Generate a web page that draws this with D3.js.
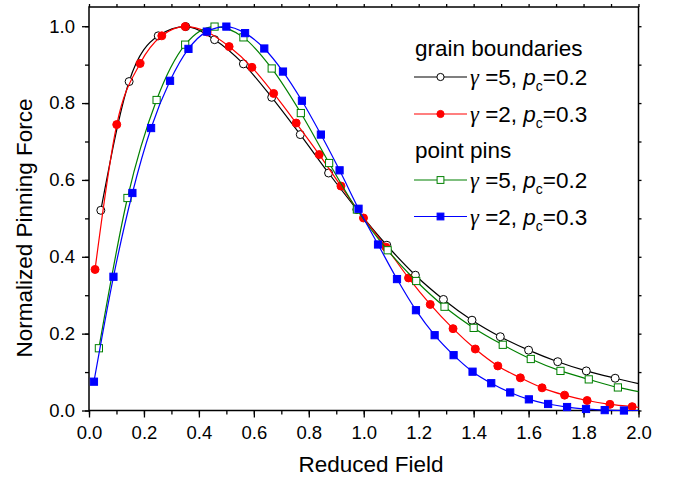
<!DOCTYPE html>
<html>
<head>
<meta charset="utf-8">
<script src="https://cdn.jsdelivr.net/npm/d3@7"></script>
<style>
  body { margin: 0; background: #fff; }
  text { font-family: "Liberation Sans", Arial, sans-serif; fill: #000; }
</style>
</head>
<body>
<svg id="chart" width="673" height="478"></svg>
<script>
// grain boundaries, gamma=5, pc=0.2 (open circles)
const gb5X = [0.043,0.146,0.252,0.352,0.457,0.562,0.665,0.769,0.872,0.975,1.084,1.188,1.290,1.394,1.497,1.600,1.706,1.810,1.915];
const gb5Y = [0.521,0.856,0.975,0.999,0.965,0.902,0.815,0.718,0.618,0.523,0.430,0.352,0.289,0.235,0.192,0.157,0.127,0.103,0.084];
// grain boundaries, gamma=2, pc=0.3 (filled circles)
const gb2X = [0.022,0.101,0.186,0.265,0.350,0.430,0.510,0.593,0.672,0.754,0.838,0.917,0.999,1.081,1.163,1.242,1.325,1.406,1.488,1.570,1.649,1.731,1.813,1.896,1.977];
const gb2Y = [0.367,0.744,0.903,0.975,0.999,0.985,0.947,0.893,0.825,0.748,0.666,0.584,0.501,0.425,0.345,0.276,0.213,0.160,0.116,0.085,0.059,0.040,0.026,0.016,0.010];
// point pins, gamma=5, pc=0.2 (open squares)
const pp5X = [0.036,0.140,0.246,0.350,0.457,0.562,0.665,0.771,0.874,0.975,1.087,1.191,1.294,1.400,1.506,1.608,1.716,1.819,1.925];
const pp5Y = [0.162,0.553,0.808,0.952,0.999,0.971,0.890,0.774,0.644,0.523,0.417,0.337,0.270,0.215,0.171,0.134,0.103,0.081,0.060];
// point pins, gamma=2, pc=0.3 (filled squares)
const pp2X = [0.018,0.089,0.158,0.226,0.295,0.362,0.429,0.500,0.568,0.638,0.706,0.775,0.844,0.912,0.981,1.052,1.121,1.190,1.258,1.327,1.396,1.464,1.533,1.601,1.671,1.740,1.809,1.877,1.947];
const pp2Y = [0.075,0.348,0.566,0.735,0.858,0.941,0.986,0.999,0.982,0.942,0.882,0.806,0.718,0.625,0.525,0.432,0.342,0.261,0.196,0.144,0.101,0.071,0.047,0.029,0.017,0.009,0.004,0.001,0.000];
// where each fitted curve meets the right edge (x = 2.0)
const curveEnds = [0.070, 0.008, 0.049, 0.000];

const xTicks = [0.0,0.2,0.4,0.6,0.8,1.0,1.2,1.4,1.6,1.8,2.0];
const yTicks = [0.0,0.2,0.4,0.6,0.8,1.0];

const svg = d3.select("#chart");
const plotL = 89, plotR = 638.5, plotT = 7, plotB = 410.5;

const x = d3.scaleLinear().domain([0, 2]).range([plotL, plotR]);
const y = d3.scaleLinear().domain([0, 1.05]).range([plotB, plotT]);

const series = [
  {xs: gb5X, ys: gb5Y, color: "#000000", shape: "circle", fill: "#ffffff", end: curveEnds[0]},
  {xs: gb2X, ys: gb2Y, color: "#ff0000", shape: "circle", fill: "#ff0000", end: curveEnds[1]},
  {xs: pp5X, ys: pp5Y, color: "#008000", shape: "square", fill: "#ffffff", end: curveEnds[2]},
  {xs: pp2X, ys: pp2Y, color: "#0000ff", shape: "square", fill: "#0000ff", end: curveEnds[3]}
];

// axes (ticks outward on all sides)
const minorX = d3.range(0, 2.001, 0.1), minorY = d3.range(0, 1.051, 0.1);
svg.append("g").attr("transform", `translate(0,${plotB})`)
  .call(d3.axisBottom(x).tickValues(minorX).tickSize(4).tickFormat(""))
  .call(g => g.select(".domain").remove());
svg.append("g").attr("transform", `translate(0,${plotB})`)
  .call(d3.axisBottom(x).tickValues(xTicks).tickSize(7).tickPadding(8).tickFormat(d3.format(".1f")))
  .call(g => g.select(".domain").remove())
  .selectAll("text").attr("font-size", 18.5).attr("font-family", "Liberation Sans");
svg.append("g").attr("transform", `translate(${plotL},0)`)
  .call(d3.axisLeft(y).tickValues(minorY).tickSize(4).tickFormat(""))
  .call(g => g.select(".domain").remove());
svg.append("g").attr("transform", `translate(${plotL},0)`)
  .call(d3.axisLeft(y).tickValues(yTicks).tickSize(7).tickPadding(7).tickFormat(d3.format(".1f")))
  .call(g => g.select(".domain").remove())
  .selectAll("text").attr("font-size", 18.5).attr("font-family", "Liberation Sans");
svg.append("g").attr("transform", `translate(0,${plotT})`)
  .call(d3.axisTop(x).tickValues(minorX).tickSize(3).tickFormat(""))
  .call(g => g.select(".domain").remove());
svg.append("g").attr("transform", `translate(${plotR},0)`)
  .call(d3.axisRight(y).tickValues(minorY).tickSize(3).tickFormat(""))
  .call(g => g.select(".domain").remove());
svg.selectAll(".tick line").attr("stroke", "#000").attr("stroke-width", 1.3);

svg.append("rect")
  .attr("x", plotL).attr("y", plotT)
  .attr("width", plotR - plotL).attr("height", plotB - plotT)
  .attr("fill", "none").attr("stroke", "#000").attr("stroke-width", 1.5);

// curves + markers
const line = d3.line().x(d => x(d[0])).y(d => y(d[1])).curve(d3.curveMonotoneX);
const plot = svg.append("g");

function marker(g, s, px, py, r) {
  if (s.shape == "circle") {
    g.append("circle").attr("cx", px).attr("cy", py).attr("r", r)
      .attr("fill", s.fill).attr("stroke", s.color).attr("stroke-width", 1);
  } else {
    g.append("rect").attr("x", px - r).attr("y", py - r)
      .attr("width", 2 * r).attr("height", 2 * r)
      .attr("fill", s.fill).attr("stroke", s.color).attr("stroke-width", 1);
  }
}

series.forEach(s => {
  let pts = s.xs.map((v, i) => [v, s.ys[i]]);
  pts.push([2.0, s.end]);
  plot.append("path").attr("d", line(pts))
    .attr("fill", "none").attr("stroke", s.color).attr("stroke-width", 1.2);
  s.xs.forEach((v, i) => marker(plot, s, x(v), y(s.ys[i]), s.shape == "circle" ? 4 : 3.6));
});

// axis titles
svg.append("text").attr("x", 371).attr("y", 472)
  .attr("text-anchor", "middle").attr("font-size", 22.5).text("Reduced Field");
svg.append("text").attr("transform", "translate(32,228) rotate(-90)")
  .attr("text-anchor", "middle").attr("font-size", 22.5).text("Normalized Pinning Force");

// legend
const legend = svg.append("g");
const headers = [{label: "grain boundaries", y: 56}, {label: "point pins", y: 158}];
headers.forEach(h => legend.append("text").attr("x", 415).attr("y", h.y).attr("font-size", 22.5).text(h.label));
const rowY = [77, 114, 180, 216.5];
const rowLabels = [["5", "0.2"], ["2", "0.3"], ["5", "0.2"], ["2", "0.3"]];
series.forEach((s, i) => {
  const ly = rowY[i];
  legend.append("line").attr("x1", 414).attr("x2", 467).attr("y1", ly).attr("y2", ly)
    .attr("stroke", s.color).attr("stroke-width", 1.2);
  marker(legend, s, 440.5, ly, s.shape == "circle" ? 3.6 : 3.4);
  const t = legend.append("text").attr("x", 470).attr("y", ly + 8).attr("font-size", 22.5);
  t.append("tspan").attr("font-family", "Liberation Serif").attr("font-style", "italic").text("\u03b3");
  t.append("tspan").text(" =" + rowLabels[i][0] + ", ");
  t.append("tspan").attr("font-style", "italic").text("p");
  t.append("tspan").attr("font-size", 14).attr("dy", 6).text("c");
  t.append("tspan").attr("dy", -6).text("=" + rowLabels[i][1]);
});
</script>
</body>
</html>
